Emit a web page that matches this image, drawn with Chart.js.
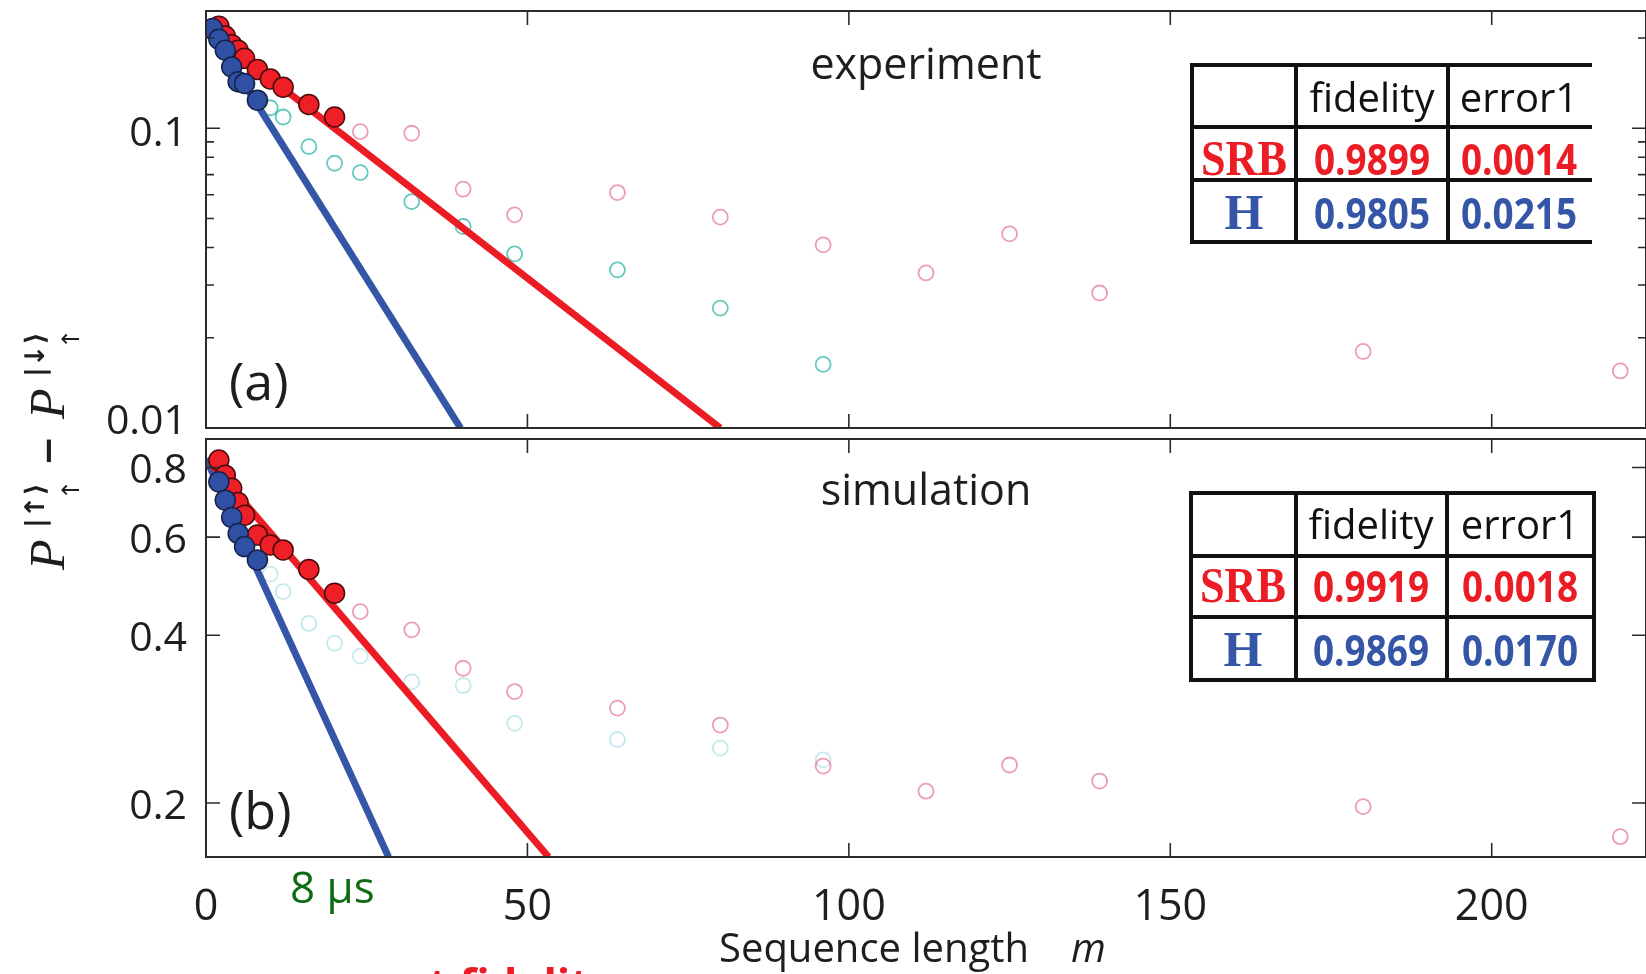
<!DOCTYPE html>
<html lang="en">
<head>
<meta charset="utf-8">
<script src="https://cdn.jsdelivr.net/npm/chart.js@4.4.1/dist/chart.umd.min.js"></script>
<style>
    body { margin: 0; background: #fff; }
    #wrap { position: relative; width: 1646px; height: 974px; }
    #wrap canvas { position: absolute; left: 0; top: 0; }
</style>
</head>
<body>
<div id="wrap">
    <canvas id="expChart" width="1646" height="974"></canvas>
    <canvas id="simChart" width="1646" height="974"></canvas>
</div>

<script>
    // ---- experiment panel (a) ----
    const expSrbM = [2, 3, 4, 5, 6, 8, 10, 12, 16, 20];
    const expSrbP = [0.219, 0.203, 0.190, 0.182, 0.171, 0.157, 0.146, 0.137, 0.120, 0.109];
    const expHM = [1, 2, 3, 4, 5, 6, 8];
    const expHP = [0.215, 0.198, 0.182, 0.160, 0.143, 0.141, 0.124];
    // faded points beyond the fitted range
    const expSrbTailM = [24, 32, 40, 48, 64, 80, 96, 112, 125, 139, 180, 220];
    const expSrbTailP = [0.0974, 0.0962, 0.0626, 0.0514, 0.061, 0.0505, 0.0408, 0.0329, 0.0444, 0.0282, 0.018, 0.0155];
    const expHTailM = [10, 12, 16, 20, 24, 32, 40, 48, 64, 80, 96];
    const expHTailP = [0.117, 0.109, 0.0868, 0.0764, 0.0711, 0.0569, 0.047, 0.0381, 0.0337, 0.0251, 0.0163];
    // fitted decays (end points)
    const expSrbFitM = [1, 80];
    const expSrbFitP = [0.207, 0.01];
    const expHFitM = [0, 39.6];
    const expHFitP = [0.224, 0.01];
    const expSrbTable = ['0.9899', '0.0014'];
    const expHTable = ['0.9805', '0.0215'];

    // ---- simulation panel (b) ----
    const simSrbM = [2, 3, 4, 5, 6, 8, 10, 12, 16, 20];
    const simSrbP = [0.825, 0.775, 0.734, 0.692, 0.657, 0.605, 0.581, 0.569, 0.525, 0.476];
    const simHM = [2, 3, 4, 5, 6, 8];
    const simHP = [0.754, 0.699, 0.651, 0.609, 0.577, 0.546];
    const simSrbTailM = [24, 32, 40, 48, 64, 80, 96, 112, 125, 139, 180, 220];
    const simSrbTailP = [0.441, 0.409, 0.349, 0.317, 0.296, 0.276, 0.233, 0.210, 0.234, 0.219, 0.197, 0.174];
    const simHTailM = [10, 12, 16, 20, 24, 32, 40, 48, 64, 80, 96];
    const simHTailP = [0.515, 0.479, 0.420, 0.387, 0.367, 0.330, 0.325, 0.278, 0.260, 0.251, 0.239];
    const simSrbFitM = [1, 53.3];
    const simSrbFitP = [0.807, 0.16];
    const simHFitM = [0, 28.4];
    const simHFitP = [0.83, 0.16];
    const simSrbTable = ['0.9919', '0.0018'];
    const simHTable = ['0.9869', '0.0170'];

    // ---- axes ----
    const xTicks = [0, 50, 100, 150, 200];
    const xTickLabels = ['0', '50', '100', '150', '200'];
    const expYTicks = [0.01, 0.1];
    const expYLabels = ['0.01', '0.1'];
    const expYMinor = [0.02, 0.03, 0.04, 0.05, 0.06, 0.07, 0.08, 0.09, 0.2];
    const simYTicks = [0.2, 0.4, 0.6, 0.8];
    const simYLabels = ['0.2', '0.4', '0.6', '0.8'];

    const RED = '#ec1c24';
    const BLUE = '#3556a6';
    const INK = '#1e1e1e';

    function pts(xs, ys) {
        return xs.map((m, i) => ({x: m, y: ys[i]}));
    }

    function filled(xs, ys, fill, edge, order) {
        return {
            data: pts(xs, ys), showLine: false, order: order,
            pointRadius: 10, pointBorderWidth: 1.5,
            pointBackgroundColor: fill, pointBorderColor: edge
        };
    }

    function hollow(xs, ys, color) {
        return {
            data: pts(xs, ys), showLine: false, order: 5,
            pointRadius: 7.5, pointBorderWidth: 1.8,
            pointBackgroundColor: 'rgba(0,0,0,0)', pointBorderColor: color
        };
    }

    function fit(xs, ys, color) {
        return {
            data: pts(xs, ys), showLine: true, order: 3,
            borderColor: color, borderWidth: 7, pointRadius: 0, tension: 0
        };
    }

    // box, inward ticks on all four sides, tick labels
    function framePlugin(opt) {
        return {
            id: 'frame',
            afterDatasetsDraw(chart) {
                const {ctx, chartArea: a} = chart;
                const xs = chart.scales.x, ys = chart.scales.y;
                ctx.save();
                ctx.strokeStyle = '#2b2b2b';
                ctx.lineWidth = 2;
                ctx.strokeRect(a.left, a.top, a.right - a.left, a.bottom - a.top);
                ctx.lineWidth = 1.6;
                ctx.beginPath();
                xTicks.forEach(v => {
                    const px = xs.getPixelForValue(v);
                    ctx.moveTo(px, a.bottom); ctx.lineTo(px, a.bottom - 14);
                    ctx.moveTo(px, a.top); ctx.lineTo(px, a.top + 14);
                });
                const yTick = (v, len) => {
                    const py = ys.getPixelForValue(v);
                    ctx.moveTo(a.left, py); ctx.lineTo(a.left + len, py);
                    ctx.moveTo(a.right, py); ctx.lineTo(a.right - len, py);
                };
                opt.major.forEach(v => yTick(v, 14));
                (opt.minor || []).forEach(v => yTick(v, 8));
                ctx.stroke();

                ctx.fillStyle = INK;
                ctx.font = '41px "Open Sans"';
                ctx.textAlign = 'right';
                ctx.textBaseline = 'middle';
                opt.major.forEach((v, i) => {
                    ctx.fillText(opt.labels[i], a.left - 19, ys.getPixelForValue(v) + opt.shift[i]);
                });
                if (opt.xLabels) {
                    ctx.font = '43px "Open Sans"';
                    ctx.textAlign = 'center';
                    ctx.textBaseline = 'alphabetic';
                    xTicks.forEach((v, i) => ctx.fillText(xTickLabels[i], xs.getPixelForValue(v), a.bottom + 63));
                }
                ctx.restore();
            }
        };
    }

    function drawTable(ctx, t) {
        const c = t.cols, r = t.rows;
        ctx.save();
        ctx.fillStyle = '#fff';
        ctx.fillRect(c[0], r[0], c[3] - c[0], r[3] - r[0]);
        ctx.strokeStyle = '#111';
        ctx.lineWidth = 4;
        ctx.lineCap = 'square';
        ctx.beginPath();
        r.forEach(y => { ctx.moveTo(c[0], y); ctx.lineTo(c[3], y); });
        (t.closeRight ? c : c.slice(0, 3)).forEach(x => { ctx.moveTo(x, r[0]); ctx.lineTo(x, r[3]); });
        ctx.stroke();

        ctx.textAlign = 'center';
        ctx.textBaseline = 'alphabetic';
        ctx.fillStyle = '#111';
        ctx.font = '40px "Open Sans"';
        ctx.fillText('fidelity', t.mid[1], t.base[0], 130);
        ctx.fillText('error1', t.mid[2], t.base[0], 124);

        [['SRB', RED, t.srb], ['H', BLUE, t.h]].forEach(([name, color, vals], i) => {
            ctx.fillStyle = color;
            ctx.font = 'bold 50px "Liberation Serif"';
            ctx.fillText(name, t.mid[0], t.base[i + 1], 86);
            ctx.font = 'bold 43px "Open Sans"';
            ctx.fillText(vals[0], t.mid[1], t.base[i + 1], 116);
            ctx.fillText(vals[1], t.mid[2], t.base[i + 1], 116);
        });
        ctx.restore();
    }

    function textPlugin(draw) {
        return {
            id: 'notes',
            afterDraw(chart) {
                const ctx = chart.ctx;
                ctx.save();
                ctx.textBaseline = 'alphabetic';
                draw(ctx);
                ctx.restore();
            }
        };
    }

    function baseOptions(padding, yMin, yMax) {
        return {
            responsive: false,
            animation: false,
            devicePixelRatio: 1,
            events: [],
            layout: {padding: padding, autoPadding: false},
            plugins: {legend: {display: false}, tooltip: {enabled: false}},
            scales: {
                x: {type: 'linear', min: 0, max: 224, display: false},
                y: {type: 'logarithmic', min: yMin, max: yMax, display: false}
            }
        };
    }

    // (a) experiment
    new Chart(document.getElementById('expChart'), {
        type: 'scatter',
        data: {
            datasets: [
                hollow(expSrbTailM, expSrbTailP, 'rgba(226, 105, 140, 0.65)'),
                hollow(expHTailM, expHTailP, 'rgba(40, 180, 165, 0.72)'),
                fit(expSrbFitM, expSrbFitP, RED),
                fit(expHFitM, expHFitP, BLUE),
                filled(expSrbM, expSrbP, '#ee1f26', '#4a0a0a', 1),
                filled(expHM, expHP, '#2f50a3', '#15224a', 0)
            ]
        },
        options: baseOptions({left: 206, top: 11, right: 0, bottom: 546}, 0.01, 0.246),
        plugins: [
            framePlugin({major: expYTicks, labels: expYLabels, minor: expYMinor, shift: [-6, 6]}),
            textPlugin(ctx => {
                ctx.fillStyle = INK;
                ctx.font = '43px "Open Sans"';
                ctx.textAlign = 'center';
                ctx.fillText('experiment', 926, 79);
                ctx.textAlign = 'left';
                ctx.font = '52px "Open Sans"';
                ctx.fillText('(a)', 229, 400);
                drawTable(ctx, {
                    cols: [1192, 1296, 1448, 1590], rows: [65, 127, 180, 242], closeRight: false,
                    mid: [1244, 1372, 1519], base: [112, 175, 229],
                    srb: expSrbTable, h: expHTable
                });
            })
        ]
    });

    // (b) simulation
    new Chart(document.getElementById('simChart'), {
        type: 'scatter',
        data: {
            datasets: [
                hollow(simSrbTailM, simSrbTailP, 'rgba(226, 105, 140, 0.65)'),
                hollow(simHTailM, simHTailP, 'rgba(110, 200, 215, 0.4)'),
                fit(simSrbFitM, simSrbFitP, RED),
                fit(simHFitM, simHFitP, BLUE),
                filled(simSrbM, simSrbP, '#ee1f26', '#4a0a0a', 1),
                filled(simHM, simHP, '#2f50a3', '#15224a', 0)
            ]
        },
        options: baseOptions({left: 206, top: 439, right: 0, bottom: 117}, 0.16, 0.9),
        plugins: [
            framePlugin({major: simYTicks, labels: simYLabels, shift: [4, 4, 4, 4], xLabels: true}),
            textPlugin(ctx => {
                ctx.fillStyle = INK;
                ctx.font = '43px "Open Sans"';
                ctx.textAlign = 'center';
                ctx.fillText('simulation', 926, 505);
                ctx.textAlign = 'left';
                ctx.font = '52px "Open Sans"';
                ctx.fillText('(b)', 229, 829);

                // x axis title
                ctx.font = '40px "Open Sans"';
                ctx.fillText('Sequence length', 719, 962);
                ctx.font = 'italic 40px "Open Sans"';
                ctx.fillText('m', 1071, 962);

                ctx.fillStyle = '#0f6b14';
                ctx.font = '44px "Open Sans"';
                ctx.fillText('8 \u03bcs', 290, 903);

                // caption running off the bottom edge
                ctx.fillStyle = RED;
                ctx.font = 'bold 44px "Open Sans"';
                ctx.fillText('exact fidelity', 328, 1001);

                drawTable(ctx, {
                    cols: [1191, 1296, 1447, 1594], rows: [493, 556, 617, 680], closeRight: true,
                    mid: [1243, 1371, 1520], base: [539, 602, 666],
                    srb: simSrbTable, h: simHTable
                });

                // y axis title, rotated
                ctx.translate(64, 572);
                ctx.rotate(-Math.PI / 2);
                ctx.fillStyle = INK;
                ctx.textAlign = 'left';
                const term = (x0, arrow) => {
                    ctx.font = 'italic 50px "Liberation Serif"';
                    ctx.fillText('P', x0, 0);
                    ctx.font = 'bold 27px "DejaVu Sans"';
                    ctx.fillText('|' + arrow + '\u27e9', x0 + 42, -20);
                    ctx.font = '24px "DejaVu Sans"';
                    ctx.fillText('\u2191', x0 + 70, 15);
                };
                term(2, '\u2191');
                ctx.font = 'bold 36px "DejaVu Sans"';
                ctx.fillText('\u2212', 106, -4);
                term(153, '\u2193');
            })
        ]
    });
</script>
</body>
</html>
